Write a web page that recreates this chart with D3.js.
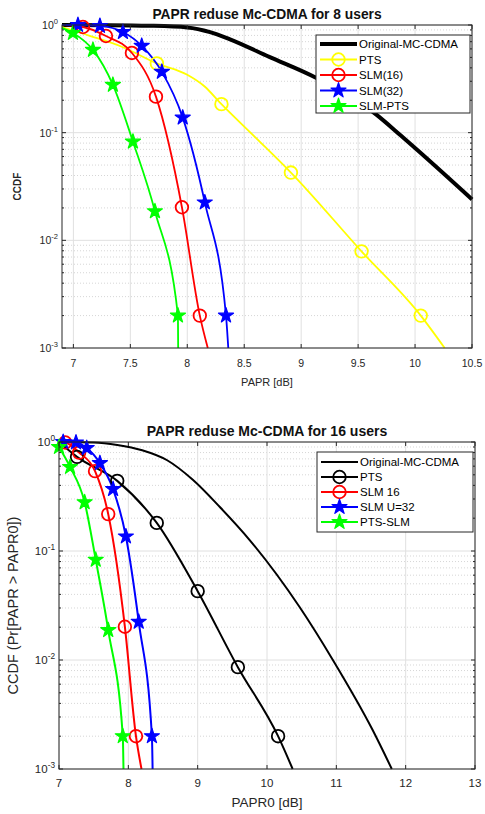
<!DOCTYPE html>
<html><head><meta charset="utf-8">
<script src="https://cdnjs.cloudflare.com/ajax/libs/d3/7.8.5/d3.min.js"></script>
<style>body{margin:0;background:#fff}svg{display:block}text{font-family:"Liberation Sans",Arial,sans-serif}</style>
</head><body><svg id="c" width="485" height="814"></svg>
<script>
// ---------- Text ----------
const titles = ["PAPR reduse Mc-CDMA for 8 users", "PAPR reduse Mc-CDMA for 16 users"];
const xLabels = ["PAPR [dB]", "PAPR0 [dB]"];
const yLabels = ["CCDF", "CCDF (Pr[PAPR > PAPR0])"];
const xTicks8 = [7, 7.5, 8, 8.5, 9, 9.5, 10, 10.5];
const xTicks16 = [7, 8, 9, 10, 11, 12, 13];
const yTickExps = [0, -1, -2, -3];
const legend8 = ["Original-MC-CDMA", "PTS", "SLM(16)", "SLM(32)", "SLM-PTS"];
const legend16 = ["Original-MC-CDMA", "PTS", "SLM 16", "SLM U=32", "PTS-SLM"];

// ---------- Chart 1: 8 users ----------
const orig8X = [6.9, 7.3, 7.67, 8.0, 8.2, 8.37, 8.72, 9.13, 9.66, 9.87, 10.04, 10.5];
const orig8Y = [1.0, 0.997, 0.985, 0.95, 0.86, 0.74, 0.505, 0.323, 0.147, 0.095, 0.066, 0.024];
const pts8X = [6.9, 7.15, 7.43, 7.733, 8.0, 8.15, 8.30, 8.6, 8.91, 9.53, 10.05, 10.26];
const pts8Y = [0.958, 0.79, 0.625, 0.44, 0.345, 0.27, 0.184, 0.09, 0.0426, 0.0079, 0.0020, 0.001];
const pts8MkX = [7.733, 8.30, 8.91, 9.53, 10.05];
const pts8MkY = [0.44, 0.184, 0.0426, 0.0079, 0.0020];
const slm16_8X = [6.9, 7.084, 7.286, 7.514, 7.725, 7.953, 8.11, 8.18];
const slm16_8Y = [1.0, 0.958, 0.79, 0.55, 0.216, 0.0203, 0.002, 0.001];
const slm16_8MkX = [7.084, 7.286, 7.514, 7.725, 7.953, 8.11];
const slm16_8MkY = [0.958, 0.79, 0.55, 0.216, 0.0203, 0.002];
const slm32_8X = [6.9, 7.04, 7.233, 7.435, 7.60, 7.777, 7.96, 8.154, 8.34, 8.36];
const slm32_8Y = [1.0, 1.0, 0.98, 0.86, 0.64, 0.367, 0.138, 0.0225, 0.002, 0.001];
const slm32_8MkX = [7.04, 7.233, 7.435, 7.60, 7.777, 7.96, 8.154, 8.34];
const slm32_8MkY = [1.0, 0.98, 0.86, 0.64, 0.367, 0.138, 0.0225, 0.002];
const slmPts8X = [6.9, 6.996, 7.172, 7.347, 7.523, 7.716, 7.918, 7.92];
const slmPts8Y = [0.94, 0.843, 0.587, 0.278, 0.0825, 0.0186, 0.002, 0.001];
const slmPts8MkX = [6.996, 7.172, 7.347, 7.523, 7.716, 7.918];
const slmPts8MkY = [0.843, 0.587, 0.278, 0.0825, 0.0186, 0.002];

// ---------- Chart 2: 16 users ----------
const orig16X = [7.0, 7.5, 7.84, 8.2, 8.56, 8.93, 9.32, 9.75, 10.47, 10.95, 11.52, 11.8];
const orig16Y = [1.0, 0.99, 0.94, 0.84, 0.68, 0.45, 0.253, 0.126, 0.0306, 0.01, 0.0023, 0.001];
const pts16X = [7.0, 7.26, 7.84, 8.41, 9.0, 9.58, 10.16, 10.37];
const pts16Y = [1.0, 0.73, 0.44, 0.181, 0.0428, 0.0086, 0.002, 0.001];
const pts16MkX = [7.26, 7.84, 8.41, 9.0, 9.58, 10.16];
const pts16MkY = [0.73, 0.44, 0.181, 0.0428, 0.0086, 0.002];
const slm16_16X = [7.0, 7.09, 7.29, 7.52, 7.71, 7.95, 8.11, 8.19];
const slm16_16Y = [1.0, 0.99, 0.80, 0.54, 0.218, 0.0202, 0.002, 0.001];
const slm16_16MkX = [7.09, 7.29, 7.52, 7.71, 7.95, 8.11];
const slm16_16MkY = [0.99, 0.80, 0.54, 0.218, 0.0202, 0.002];
const slm32_16X = [7.0, 7.06, 7.245, 7.40, 7.59, 7.78, 7.965, 8.15, 8.34, 8.35];
const slm32_16Y = [1.0, 1.0, 0.99, 0.88, 0.64, 0.37, 0.136, 0.0224, 0.002, 0.001];
const slm32_16MkX = [7.06, 7.245, 7.40, 7.59, 7.78, 7.965, 8.15, 8.34];
const slm32_16MkY = [1.0, 0.99, 0.88, 0.64, 0.37, 0.136, 0.0224, 0.002];
const ptsSlm16X = [7.0, 7.16, 7.37, 7.53, 7.71, 7.92, 7.93];
const ptsSlm16Y = [0.9, 0.59, 0.28, 0.083, 0.0188, 0.002, 0.001];
const ptsSlm16MkX = [7.0, 7.16, 7.37, 7.53, 7.71, 7.92];
const ptsSlm16MkY = [0.9, 0.59, 0.28, 0.083, 0.0188, 0.002];

const zip = (xs, ys) => xs.map((x, i) => [x, ys[i]]);
const svg = d3.select("#c");
svg.append("rect").attr("width", 485).attr("height", 814).attr("fill", "#fff");

function drawChart(o) {
  const g = svg.append("g");
  const x = d3.scaleLinear().domain(o.xDomain).range([o.left, o.right]);
  const y = d3.scaleLog().domain([1e-3, 1]).range([o.bottom, o.top]);
  // grid
  const grid = g.append("g");
  const minors = [];
  [-3, -2, -1].forEach(e => { for (let k = 2; k <= 9; k++) minors.push(k * Math.pow(10, e)); });
  grid.selectAll(".mn").data(minors).join("line")
    .attr("x1", o.left).attr("x2", o.right).attr("y1", d => y(d)).attr("y2", d => y(d))
    .attr("stroke", "#d6d6d6").attr("stroke-width", 1).attr("stroke-dasharray", "1,2");
  grid.selectAll(".mjy").data(yTickExps).join("line")
    .attr("x1", o.left).attr("x2", o.right).attr("y1", d => y(Math.pow(10, d))).attr("y2", d => y(Math.pow(10, d)))
    .attr("stroke", "#e0e0e0").attr("stroke-width", 1);
  grid.selectAll(".mjx").data(o.xTicks).join("line")
    .attr("x1", d => x(d)).attr("x2", d => x(d)).attr("y1", o.top).attr("y2", o.bottom)
    .attr("stroke", "#e0e0e0").attr("stroke-width", 1);

  // series lines
  const line = d3.line().x(d => x(d[0])).y(d => y(d[1])).curve(d3.curveMonotoneX);
  o.series.forEach(s => {
    g.append("path").attr("d", line(zip(s.x, s.y))).attr("fill", "none")
      .attr("stroke", s.color).attr("stroke-width", s.w).attr("stroke-linejoin", "round");
  });
  o.series.forEach(s => {
    if (!s.mx) return;
    zip(s.mx, s.my).forEach(p => drawMarker(g, s, x(p[0]), y(p[1])));
  });

  // frame + ticks
  const ax = g.append("g").attr("stroke", "#262626").attr("stroke-width", 1);
  ax.append("rect").attr("x", o.left).attr("y", o.top).attr("width", o.right - o.left)
    .attr("height", o.bottom - o.top).attr("fill", "none");
  o.xTicks.forEach(t => {
    ax.append("line").attr("x1", x(t)).attr("x2", x(t)).attr("y1", o.bottom).attr("y2", o.bottom - 4);
    ax.append("line").attr("x1", x(t)).attr("x2", x(t)).attr("y1", o.top).attr("y2", o.top + 4);
  });
  yTickExps.forEach(e => {
    const yy = y(Math.pow(10, e));
    ax.append("line").attr("x1", o.left).attr("x2", o.left + 4).attr("y1", yy).attr("y2", yy);
    ax.append("line").attr("x1", o.right).attr("x2", o.right - 4).attr("y1", yy).attr("y2", yy);
  });
  minors.forEach(m => {
    const yy = y(m);
    ax.append("line").attr("x1", o.left).attr("x2", o.left + 2).attr("y1", yy).attr("y2", yy);
    ax.append("line").attr("x1", o.right).attr("x2", o.right - 2).attr("y1", yy).attr("y2", yy);
  });

  // tick labels
  g.selectAll(".xt").data(o.xTicks).join("text")
    .attr("x", d => x(d)).attr("y", o.bottom + o.xtOff).attr("text-anchor", "middle")
    .attr("font-size", o.tickFs).attr("fill", "#262626").text(d => d);
  yTickExps.forEach(e => {
    const t = g.append("text").attr("x", o.left - 4).attr("y", y(Math.pow(10, e)) + 4)
      .attr("text-anchor", "end").attr("font-size", o.tickFs).attr("fill", "#262626");
    t.append("tspan").text("10");
    t.append("tspan").attr("dy", -5).attr("font-size", o.tickFs * 0.72).text(e);
  });

  // title and labels
  g.append("text").attr("x", (o.left + o.right) / 2).attr("y", o.top - 6).attr("text-anchor", "middle")
    .attr("font-size", o.titleFs).attr("font-weight", "bold").attr("fill", "#111").text(o.title);
  g.append("text").attr("x", (o.left + o.right) / 2).attr("y", o.bottom + o.xlOff).attr("text-anchor", "middle")
    .attr("font-size", o.xlFs).attr("fill", "#262626").text(o.xLabel);
  g.append("text").attr("transform", `translate(${o.ylX},${(o.top + o.bottom) / 2}) rotate(-90)`)
    .attr("text-anchor", "middle").attr("font-size", o.ylFs).attr("font-weight", o.ylW)
    .attr("fill", "#262626").text(o.yLabel);

  // legend
  const L = o.legend;
  const lg = g.append("g");
  lg.append("rect").attr("x", L.x).attr("y", L.y).attr("width", L.w).attr("height", L.h)
    .attr("fill", "#fff").attr("stroke", "#262626").attr("stroke-width", 1);
  o.series.forEach((s, i) => {
    const yy = L.y + L.first + i * L.step;
    lg.append("line").attr("x1", L.x + 4).attr("x2", L.x + 41).attr("y1", yy).attr("y2", yy)
      .attr("stroke", s.color).attr("stroke-width", s.w);
    if (s.mk) drawMarker(lg, s, L.x + 22.5, yy);
    lg.append("text").attr("x", L.x + 43).attr("y", yy + 4).attr("font-size", L.fs)
      .attr("fill", "#000").text(o.labels[i]);
  });
}

function drawMarker(g, s, cx, cy) {
  if (s.mk === "o") {
    g.append("circle").attr("cx", cx).attr("cy", cy).attr("r", 6.3)
      .attr("fill", "none").attr("stroke", s.color).attr("stroke-width", 1.8);
  } else if (s.mk === "*") {
    g.append("path").attr("d", d3.symbol(d3.symbolStar, 70)())
      .attr("transform", `translate(${cx},${cy})`)
      .attr("fill", s.color).attr("stroke", s.color).attr("stroke-width", 1.2).attr("stroke-linejoin", "round");
  }
}

drawChart({
  left: 62, right: 472, top: 25, bottom: 348, xDomain: [6.9, 10.5], xTicks: xTicks8,
  title: titles[0], xLabel: xLabels[0], yLabel: yLabels[0],
  titleFs: 13.8, tickFs: 10.5, xtOff: 19, xlOff: 38, xlFs: 11, ylX: 21, ylFs: 10, ylW: "bold",
  labels: legend8,
  legend: { x: 316, y: 35, w: 154, h: 78, first: 9, step: 15.5, fs: 11.5 },
  series: [
    { x: orig8X, y: orig8Y, color: "#000", w: 4 },
    { x: pts8X, y: pts8Y, mx: pts8MkX, my: pts8MkY, color: "#ffff00", w: 1.8, mk: "o" },
    { x: slm16_8X, y: slm16_8Y, mx: slm16_8MkX, my: slm16_8MkY, color: "#ff0000", w: 1.8, mk: "o" },
    { x: slm32_8X, y: slm32_8Y, mx: slm32_8MkX, my: slm32_8MkY, color: "#0000ff", w: 1.8, mk: "*" },
    { x: slmPts8X, y: slmPts8Y, mx: slmPts8MkX, my: slmPts8MkY, color: "#00ff00", w: 1.8, mk: "*" }
  ]
});

drawChart({
  left: 59, right: 475, top: 442, bottom: 769, xDomain: [7, 13], xTicks: xTicks16,
  title: titles[1], xLabel: xLabels[1], yLabel: yLabels[1],
  titleFs: 14, tickFs: 11.5, xtOff: 18, xlOff: 38, xlFs: 13.5, ylX: 18, ylFs: 14.5, ylW: "normal",
  labels: legend16,
  legend: { x: 317, y: 452, w: 156, h: 80, first: 10, step: 15, fs: 11.5 },
  series: [
    { x: orig16X, y: orig16Y, color: "#000", w: 2 },
    { x: pts16X, y: pts16Y, mx: pts16MkX, my: pts16MkY, color: "#000", w: 2, mk: "o" },
    { x: slm16_16X, y: slm16_16Y, mx: slm16_16MkX, my: slm16_16MkY, color: "#ff0000", w: 2, mk: "o" },
    { x: slm32_16X, y: slm32_16Y, mx: slm32_16MkX, my: slm32_16MkY, color: "#0000ff", w: 2, mk: "*" },
    { x: ptsSlm16X, y: ptsSlm16Y, mx: ptsSlm16MkX, my: ptsSlm16MkY, color: "#00ff00", w: 2, mk: "*" }
  ]
});
</script></body></html>
